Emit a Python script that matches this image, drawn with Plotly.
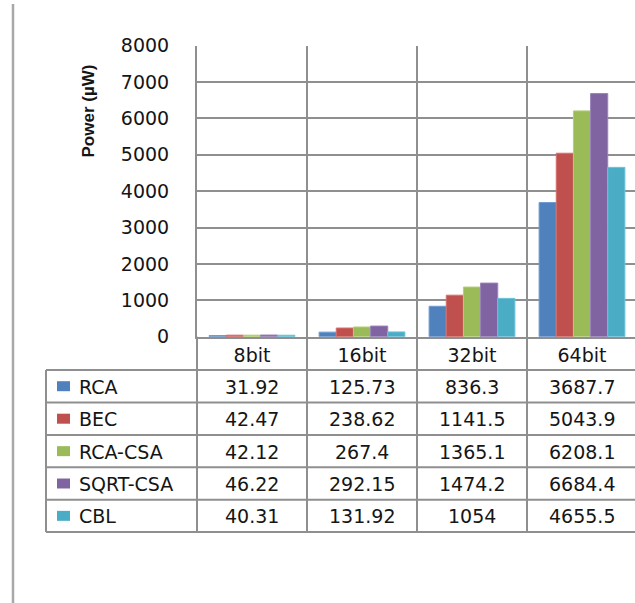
import plotly.graph_objects as go

categories = ["8bit", "16bit", "32bit", "64bit"]
series_names = ["RCA", "BEC", "RCA-CSA", "SQRT-CSA", "CBL"]
rca = [31.92, 125.73, 836.3, 3687.7]
bec = [42.47, 238.62, 1141.5, 5043.9]
rca_csa = [42.12, 267.4, 1365.1, 6208.1]
sqrt_csa = [46.22, 292.15, 1474.2, 6684.4]
cbl = [40.31, 131.92, 1054, 4655.5]
series_values = [rca, bec, rca_csa, sqrt_csa, cbl]
colors = ["#4F81BD", "#C0504D", "#9BBB59", "#8064A2", "#4BACC6"]
edge_colors = ["#6F9BD1", "#D4706D", "#B3CF79", "#9A82BA", "#6CC4DA"]
y_ticks = [0, 1000, 2000, 3000, 4000, 5000, 6000, 7000, 8000]

W, H = 635, 603
FONT = "DejaVu Sans"
TXT = "#151515"
GRID = "#8f8f8f"


def px_x(p):
    return p / W


def px_y(p):
    return 1 - p / H


plot_left, plot_zero, plot_top = 197, 336.7, 45.7
cat_w = 110.0
row_lines = [370, 402.4, 435, 467.3, 499.7, 532]

fig = go.Figure()
for name, vals, c, ec in zip(series_names, series_values, colors, edge_colors):
    fig.add_trace(go.Bar(x=categories, y=vals, name=name,
                         marker=dict(color=c, line=dict(color=ec, width=1))))

shapes = []
# far-left page line
shapes.append(dict(type="line", xref="paper", yref="paper", x0=px_x(13), x1=px_x(13),
                   y0=px_y(4), y1=px_y(H), line=dict(color="#a8a8a8", width=2.5)))
# table horizontal lines
for r in row_lines:
    shapes.append(dict(type="line", xref="paper", yref="paper", x0=px_x(46), x1=1.01,
                       y0=px_y(r), y1=px_y(r), line=dict(color=GRID, width=2)))
# table left border
shapes.append(dict(type="line", xref="paper", yref="paper", x0=px_x(46), x1=px_x(46),
                   y0=px_y(row_lines[0]), y1=px_y(row_lines[-1]), line=dict(color=GRID, width=2)))
# y-axis line continued through table
shapes.append(dict(type="line", xref="paper", yref="paper", x0=px_x(plot_left), x1=px_x(plot_left),
                   y0=px_y(plot_zero), y1=px_y(row_lines[-1]), line=dict(color=GRID, width=2)))
# category boundaries through table
for b in [0.5, 1.5, 2.5]:
    shapes.append(dict(type="line", xref="x", yref="paper", x0=b, x1=b,
                       y0=px_y(plot_zero), y1=px_y(row_lines[-1]), line=dict(color=GRID, width=2)))

annotations = []
row_centers = [(row_lines[i] + row_lines[i + 1]) / 2 for i in range(len(series_names))]
for i, (name, vals, c) in enumerate(zip(series_names, series_values, colors)):
    yc = row_centers[i]
    shapes.append(dict(type="rect", xref="paper", yref="paper", x0=px_x(57), x1=px_x(70),
                       y0=px_y(yc + 5), y1=px_y(yc - 5), fillcolor=c, line=dict(width=0)))
    annotations.append(dict(text=name, xref="paper", yref="paper", x=px_x(77), y=px_y(yc + 0.5),
                            xanchor="left", yanchor="middle", showarrow=False,
                            font=dict(family=FONT, size=19, color=TXT)))
    for j, v in enumerate(vals):
        annotations.append(dict(text="{:g}".format(v), xref="x", yref="paper", x=j, y=px_y(yc + 0.5),
                                xanchor="center", yanchor="middle", showarrow=False,
                                font=dict(family=FONT, size=19, color=TXT)))

annotations.append(dict(text="Power (µW)", xref="paper", yref="paper", x=px_x(88.5), y=px_y(111),
                        textangle=-90, showarrow=False, xanchor="center", yanchor="middle",
                        font=dict(family="Liberation Sans Narrow, Arial Narrow, sans-serif",
                                  size=17, color=TXT, weight="bold")))

fig.update_layout(
    width=W, height=H,
    margin=dict(l=0, r=0, t=0, b=0, pad=0, autoexpand=False),
    paper_bgcolor="white", plot_bgcolor="white",
    barmode="group", bargap=0.22, bargroupgap=0,
    showlegend=False,
    shapes=shapes, annotations=annotations,
    xaxis=dict(domain=[px_x(plot_left), 1], type="category", categoryorder="array",
               categoryarray=categories,
               range=[-0.5, -0.5 + (W - plot_left) / cat_w],
               showgrid=True, gridcolor=GRID, gridwidth=2, tickson="boundaries",
               ticks="", showline=True, linecolor=GRID, linewidth=2, automargin=False,
               tickfont=dict(family=FONT, size=19, color=TXT), ticklabelstandoff=0),
    yaxis=dict(domain=[px_y(plot_zero), px_y(plot_top)], range=[0, 8000],
               tickvals=y_ticks, showgrid=True, gridcolor=GRID, gridwidth=2, automargin=False,
               zeroline=False, showline=True, linecolor=GRID, linewidth=2, ticks="",
               tickfont=dict(family=FONT, size=19, color=TXT), ticklabelstandoff=22),
)

fig.write_html("out.html")
